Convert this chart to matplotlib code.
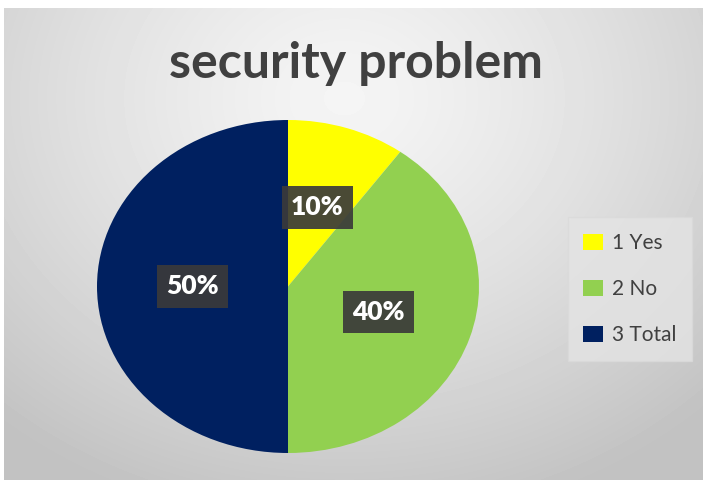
import numpy as np
import matplotlib.pyplot as plt

labels = ['1 Yes', '2 No', '3 Total']
values = [10, 40, 50]
colors = ['#FFFF00', '#92D050', '#002060']
title = 'security problem'

plt.rcParams['font.family'] = ['Lato', 'DejaVu Sans']

fig = plt.figure(figsize=(7.03, 4.80), dpi=100)
fig.patch.set_facecolor('white')

# gray radial gradient panel behind the chart
bg = fig.add_axes([4 / 703, 0, 699 / 703, 472 / 480])
yy, xx = np.mgrid[0:472, 0:699]
d = np.sqrt(((xx - 340) / 520.0) ** 2 + ((yy - 90) / 430.0) ** 2)
shade = np.clip(0.96 - 0.20 * d ** 1.3, 0.76, 0.96)
bg.imshow(shade, cmap='gray', vmin=0, vmax=1, aspect='auto', interpolation='bilinear')
bg.axis('off')

fig.text(356 / 703, 1 - 64 / 480, title, ha='center', va='center',
         fontsize=36, fontweight='bold', color='#404040')

ax = fig.add_axes([97 / 703, 27 / 480, 382 / 703, 333 / 480])
wedges, texts, autotexts = ax.pie(values, colors=colors, startangle=90, counterclock=False,
                                  autopct='%1.0f%%', pctdistance=0.5,
                                  wedgeprops=dict(linewidth=0))
ax.set_aspect('auto')
ax.set_xlim(-1, 1)
ax.set_ylim(-1, 1)
for t in autotexts:
    t.set_color('white')
    t.set_fontsize(19)
    t.set_fontweight('heavy')
    t.set_bbox(dict(boxstyle='square,pad=0.35', facecolor='#3a3a3a', edgecolor='none', alpha=0.92))

leg = fig.legend(wedges, labels, loc='center', bbox_to_anchor=(630 / 703, 1 - 289 / 480),
                 frameon=True, fontsize=15, labelspacing=1.25, handlelength=0.95,
                 handleheight=0.8, handletextpad=0.45, borderpad=0.75, borderaxespad=0,
                 fancybox=False)
leg.get_frame().set_facecolor('#e4e4e4')
leg.get_frame().set_edgecolor('#dadada')
leg.get_frame().set_alpha(0.8)
for t in leg.get_texts():
    t.set_color('#404040')

fig.savefig('out.png', dpi=100)
